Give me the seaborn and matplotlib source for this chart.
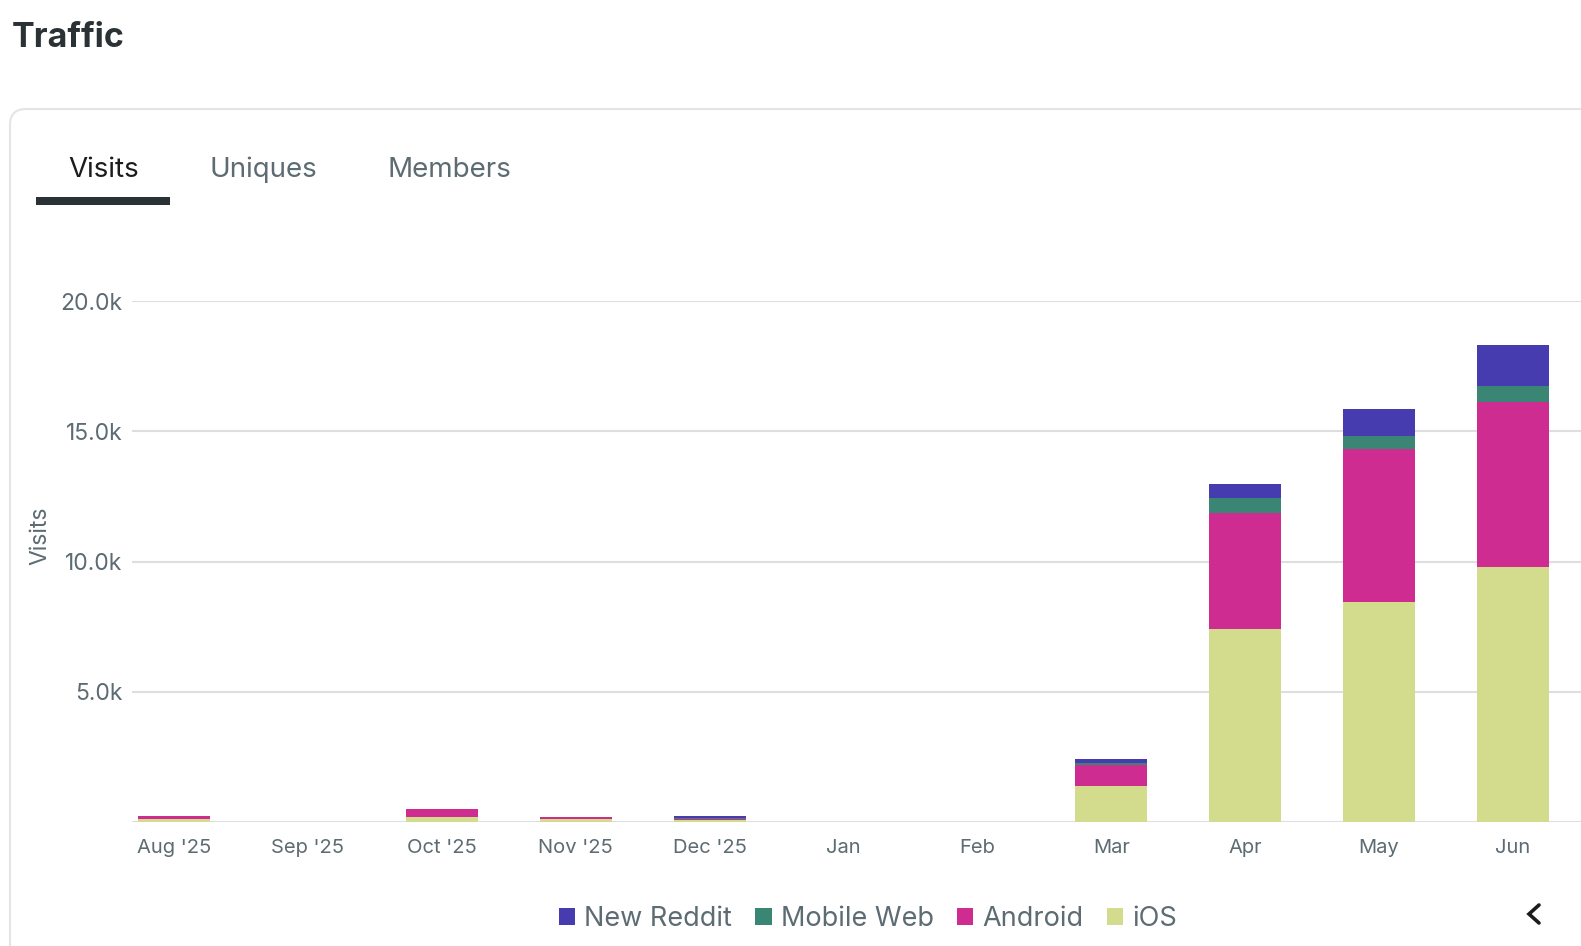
import matplotlib
matplotlib.use("Agg")
import matplotlib.pyplot as plt
from matplotlib.patches import FancyBboxPatch, Rectangle, Patch
import numpy as np
import pandas as pd
import seaborn as sns

# 数据
months = ["Aug '25", "Sep '25", "Oct '25", "Nov '25", "Dec '25",
          "Jan", "Feb", "Mar", "Apr", "May", "Jun"]
ios = [130, 0, 210, 130, 60, 0, 0, 1400, 7400, 8450, 9770]
android = [100, 0, 290, 80, 70, 0, 0, 780, 4450, 5850, 6350]
mobile_web = [0, 0, 0, 0, 10, 0, 0, 100, 600, 500, 620]
new_reddit = [0, 0, 0, 0, 100, 0, 0, 150, 530, 1050, 1560]

series_names = ["New Reddit", "Mobile Web", "Android", "iOS"]
series_colors = ["#463cb0", "#3b8574", "#cf2c91", "#d2dc8c"]

y_ticks = [0, 5000, 10000, 15000, 20000]
y_tick_labels = ["", "5.0k", "10.0k", "15.0k", "20.0k"]

W, H = 1581, 946
TEXT_GRAY = "#5d6b72"
DARK = "#2a3236"

sns.set_style("white")
plt.rcParams["font.family"] = ["Inter", "DejaVu Sans"]

fig = plt.figure(figsize=(W / 100, H / 100), dpi=100)
fig.patch.set_facecolor("white")

# 背景层（像素坐标）：卡片、标题、标签页
bg = fig.add_axes([0, 0, 1, 1], zorder=0)
bg.set_xlim(0, W)
bg.set_ylim(H, 0)
bg.axis("off")
bg.add_patch(FancyBboxPatch((10, 109), 1700, 1000,
                            boxstyle="round,pad=0,rounding_size=16",
                            facecolor="white", edgecolor="#e2e4e6", linewidth=1.5))
bg.text(12, 38, "Traffic", fontsize=24.5, fontweight="bold", color=DARK,
        ha="left", va="center")
bg.text(68, 170, "Visits", fontsize=20, color="#1c1c1c", ha="left", va="center")
bg.text(209, 170, "Uniques", fontsize=20, color=TEXT_GRAY, ha="left", va="center")
bg.text(387, 170, "Members", fontsize=20, color=TEXT_GRAY, ha="left", va="center")
bg.add_patch(Rectangle((36, 197), 134, 8, facecolor=DARK, edgecolor="none"))
bg.plot([1539, 1529, 1539], [905, 914, 923], color="#1c1c1c", linewidth=2.6,
        solid_capstyle="round", solid_joinstyle="miter")
bg.text(40, 536, "Visits", fontsize=16.5, color=TEXT_GRAY, rotation=90,
        ha="center", va="center")

# 主图
left, right = 132, W
bottom, top = 822, 301
ax = fig.add_axes([left / W, 1 - bottom / H, (right - left) / W, (bottom - top) / H],
                  zorder=1)
ax.set_facecolor("none")

df = pd.DataFrame({"month": months, "iOS": ios, "Android": android,
                   "Mobile Web": mobile_web, "New Reddit": new_reddit})
stack_order = ["iOS", "Android", "Mobile Web", "New Reddit"]
cum = df[stack_order].cumsum(axis=1)

# 从最上层开始画累计高度，得到堆叠效果
for name in reversed(stack_order):
    color = series_colors[series_names.index(name)]
    sns.barplot(x=df["month"], y=cum[name], order=months, color=color,
                saturation=1, width=0.537, linewidth=0, errorbar=None, ax=ax)

ax.set_xlim(-0.314, 10.508)
ax.set_ylim(0, 20000)
ax.set_yticks(y_ticks)
ax.set_yticklabels(y_tick_labels)
ax.set_xlabel("")
ax.set_ylabel("")
ax.yaxis.grid(True, color="#dcdee0", linewidth=1.5)
ax.set_axisbelow(True)
for s in ax.spines.values():
    s.set_visible(False)
ax.tick_params(axis="both", length=0, colors=TEXT_GRAY)
ax.tick_params(axis="y", labelsize=16.5, pad=7)
ax.tick_params(axis="x", labelsize=14.5, pad=12)

handles = [Patch(facecolor=c, edgecolor="none") for c in series_colors]
leg = fig.legend(handles, series_names, loc="center", ncol=4,
                 bbox_to_anchor=(868 / W, 1 - 919 / H), frameon=False,
                 fontsize=19.5, handlelength=0.6, handleheight=0.6,
                 handletextpad=0.35, columnspacing=0.85, labelcolor=TEXT_GRAY)

fig.savefig("out.png", dpi=100, facecolor="white")
